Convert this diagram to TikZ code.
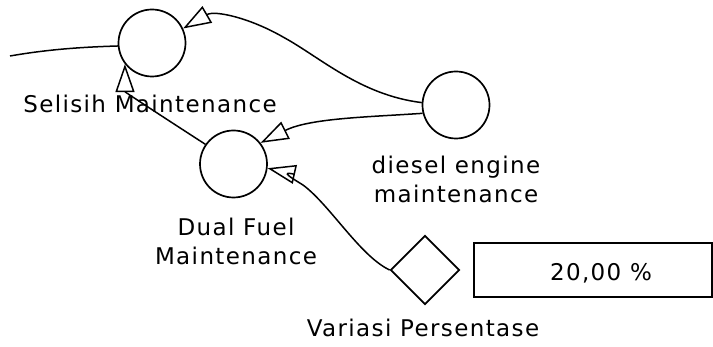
\documentclass[tikz,border=0pt]{standalone}
\usepackage{fontspec}
\setmainfont{DejaVu Sans}[LetterSpace=6]
\usetikzlibrary{arrows.meta, positioning, shapes.geometric}
\tikzset{
  every picture/.style={font=\fontsize{23}{29}\selectfont, line width=1.7pt},
  aux/.style={draw, circle, minimum size=67pt, inner sep=0pt},
  conv/.style={draw, diamond, minimum width=69pt, minimum height=69pt, inner sep=0pt},
  valbox/.style={draw, rectangle, minimum width=238pt, minimum height=54pt, inner sep=0pt},
  lbl/.style={align=center, inner sep=0pt},
  link/.style={-{Triangle[open, length=28pt, width=19pt]}, line width=1.5pt},
}
\begin{document}
\begin{tikzpicture}[x=1pt, y=-1pt]
  \useasboundingbox (0,0) rectangle (713,347);
  % variables
  \node[aux] (sel) at (152,43) {};
  \node[aux] (dual) at (233.5,164) {};
  \node[aux] (diesel) at (456,105) {};
  \node[conv] (var) at (425,270) {};
  \node[valbox] (val) at (593,270) {};
  \node[lbl, anchor=base] (valtxt) at (601,281) {20,00 \%};
  % labels
  \node[lbl, anchor=base] (sellbl) at (150,113) {Selisih Maintenance};
  \node[lbl, anchor=base] (diesellbl) at (456,203) {diesel engine\\maintenance};
  \node[lbl, anchor=base] (duallbl) at (236,265) {Dual Fuel\\Maintenance};
  \node[lbl, anchor=base] (varlbl) at (423,337) {Variasi Persentase};
  % links
  \coordinate (lft) at (10,56);
  \draw[line width=1.5pt] (lft) .. controls (50,49) and (85,47) .. (sel.185);
  \draw[link] (diesel.176) .. controls (360,95) and (320,57) .. (283,37)
    .. controls (250,18) and (215,10) .. (sel.25);
  \draw[link] (diesel.194) .. controls (370,117) and (310,118) .. (dual.38);
  \draw[link] (dual.145) .. controls (160,115) and (125,92) .. (sel.218);
  \draw[link] (var.west) .. controls (360,256) and (330,205) .. (303,185)
    .. controls (290,177) and (280,171) .. (dual.353);
\end{tikzpicture}
\end{document}
